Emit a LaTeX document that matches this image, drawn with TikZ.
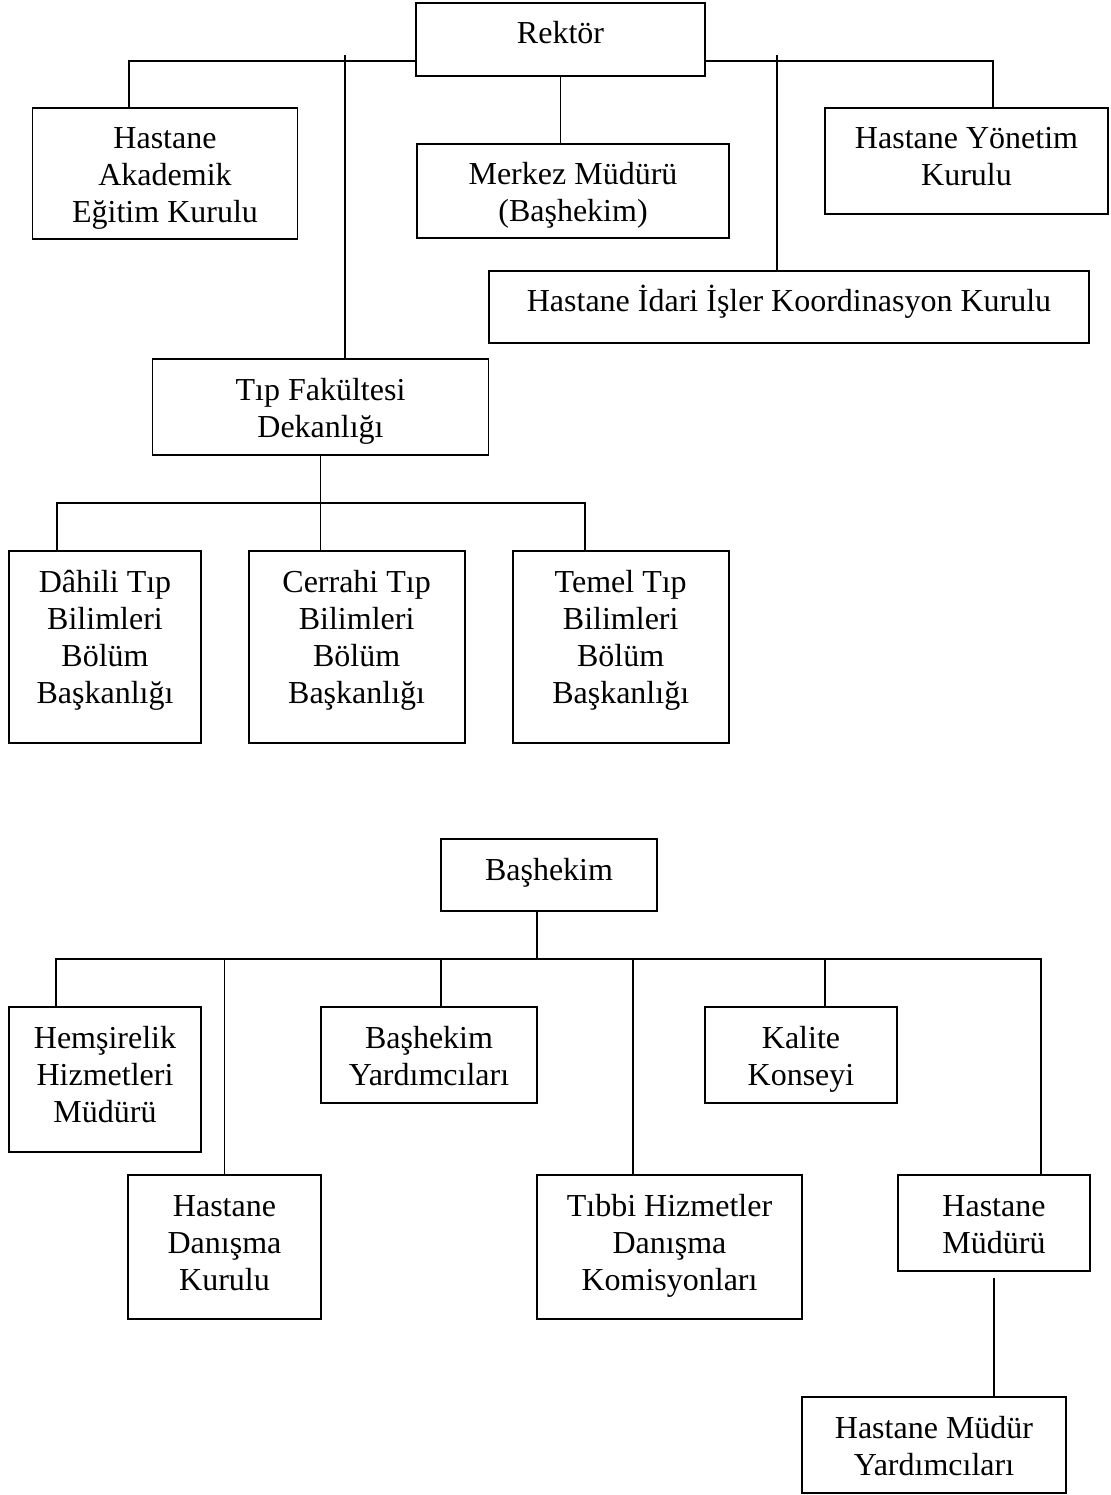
\documentclass[tikz,border=0pt]{standalone}
\usepackage{fontspec}
\setmainfont{Liberation Serif}
\usetikzlibrary{calc}

\begin{document}
\begin{tikzpicture}[x=1pt, y=-1pt,
			bx/.style={draw, line width=1.8pt, align=center, inner xsep=0pt, inner ysep=0pt,
				font=\fontsize{32}{37}\selectfont},
			ln/.style={line width=1.8pt}
			]
			\useasboundingbox (0,0) rectangle (1110,1495);
			\node[bx, minimum width=289pt, text height=41pt, text depth=32pt] (rek) at (560.5,39.5) {Rektör};
			\node[bx, minimum width=265pt, text height=115pt, text depth=16pt] (aka) at (165,173.5)
			{Hastane\\ Akademik\\ Eğitim Kurulu};
			\node[bx, minimum width=312pt, text height=78pt, text depth=16pt] (mer) at (573,191)
			{Merkez Müdürü\\ (Başhekim)};
			\node[bx, minimum width=283pt, text height=78pt, text depth=28pt] (yon) at (966.5,161)
			{Hastane Yönetim\\ Kurulu};
			\node[bx, minimum width=600pt, text height=41pt, text depth=31pt] (ida) at (789,307)
			{Hastane İdari İşler Koordinasyon Kurulu};
			\node[bx, minimum width=336pt, text height=78pt, text depth=18pt] (tip) at (320.5,407)
			{Tıp Fakültesi\\ Dekanlığı};
			\node[bx, minimum width=192pt, text height=152pt, text depth=40pt] (dah) at (105,647)
			{Dâhili Tıp\\ Bilimleri\\ Bölüm\\ Başkanlığı};
			\node[bx, minimum width=216pt, text height=152pt, text depth=40pt] (cer) at (356.6,647)
			{Cerrahi Tıp\\ Bilimleri\\ Bölüm\\ Başkanlığı};
			\node[bx, minimum width=216pt, text height=152pt, text depth=40pt] (tem) at (620.7,647)
			{Temel Tıp\\ Bilimleri\\ Bölüm\\ Başkanlığı};
			\coordinate (rbus) at (560,61);
			\coordinate (tbus) at (321,503);
			\coordinate (rtk1) at (345,55);
			\coordinate (rtk2) at (777,55);
			\draw[ln] (rek.west |- rbus) -| ([xshift=-36.4pt]aka.north);
			\draw[ln] (rek.east |- rbus) -| ([xshift=26.5pt]yon.north);
			\draw[ln] (rek.south) -- (rek.south |- mer.north);
			\draw[ln] (rtk1) -- (rtk1 |- tip.north); \draw[ln] (rtk2) -- (rtk2 |- ida.north);
			\draw[ln] (tip.south) -- (tip.south |- cer.north);
			\draw[ln] ([xshift=-48pt]dah.north) |- (tbus) -| ([xshift=-35.7pt]tem.north);
			\node[bx, minimum width=216pt, text height=41pt, text depth=31pt] (bas) at (549,875) {Başhekim};
			\node[bx, minimum width=192pt, text height=115pt, text depth=30pt] (hem) at (105,1079.5)
			{Hemşirelik\\ Hizmetleri\\ Müdürü};
			\node[bx, minimum width=216pt, text height=78pt, text depth=18pt] (byr) at (429,1055)
			{Başhekim\\ Yardımcıları};
			\node[bx, minimum width=192pt, text height=78pt, text depth=18pt] (kal) at (801,1055)
			{Kalite\\ Konseyi};
			\node[bx, minimum width=193pt, text height=115pt, text depth=29pt] (dan) at (224.5,1247)
			{Hastane\\ Danışma\\ Kurulu};
			\node[bx, minimum width=265pt, text height=115pt, text depth=29pt] (tib) at (669.5,1247)
			{Tıbbi Hizmetler\\ Danışma\\ Komisyonları};
			\node[bx, minimum width=192pt, text height=78pt, text depth=18pt] (mud) at (994,1223)
			{Hastane\\ Müdürü};
			\node[bx, minimum width=264pt, text height=78pt, text depth=18pt] (myr) at (934,1445)
			{Hastane Müdür\\ Yardımcıları};
			\coordinate (bbus) at (537,959);
			\draw[ln] ([xshift=-12pt]bas.south) -- (bbus);
			\draw[ln] ([xshift=-49pt]hem.north) |- (bbus) -| ([xshift=47pt]mud.north);
			\draw[ln] (dan.north) -- (dan.north |- bbus); \draw[ln] ([xshift=12pt]byr.north) -- ([xshift=12pt]byr.north |- bbus);
			\draw[ln] ([xshift=-36.5pt]tib.north) -- ([xshift=-36.5pt]tib.north |- bbus);
			\draw[ln] ([xshift=24pt]kal.north) -- ([xshift=24pt]kal.north |- bbus);
			\draw[ln, shorten <=6pt] (mud.south) -- (mud.south |- myr.north);
	\end{tikzpicture}
\end{document}
